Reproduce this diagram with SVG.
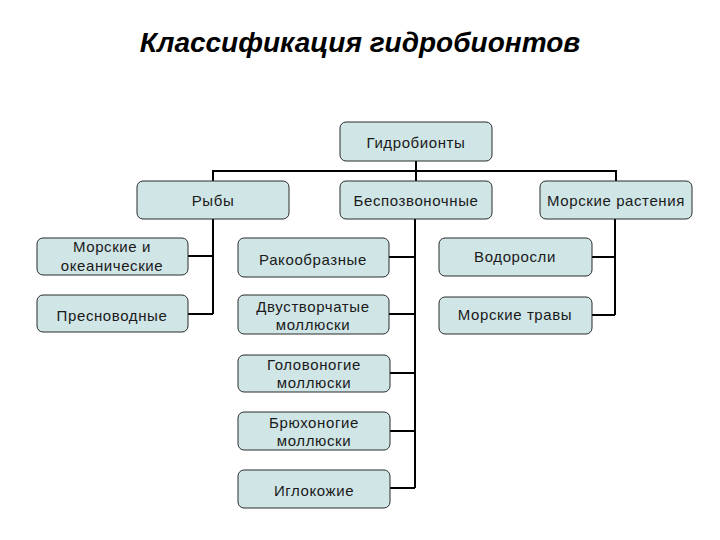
<svg xmlns="http://www.w3.org/2000/svg" width="720" height="540" viewBox="0 0 720 540">
<style>
.box{fill:#cfe5e6;stroke:#2a2a2a;stroke-width:1}
.t{font-family:"Liberation Sans",Arial,sans-serif;font-size:15px;letter-spacing:0.6px;fill:#1a1a1a;text-anchor:middle}
.c{fill:none;stroke:#000;stroke-width:2}
.title{font-family:"Liberation Sans",Arial,sans-serif;font-size:28px;font-weight:bold;font-style:italic;fill:#000;text-anchor:middle}
</style>
<rect width="720" height="540" fill="#fff"/>
<text class="title" x="360" y="52">Классификация гидробионтов</text>
<g id="connectors">
<path class="c" d="M416 161V181M213 181V171H616V181"/>
<path class="c" d="M213 219V314M188 256H213M188 314H213"/>
<path class="c" d="M415 219V488M389 257H415M389 314H415M390 373H415M390 431H415M390 488H415"/>
<path class="c" d="M615 219V315M592 257H615M592 315H615"/>
</g>
<g id="n-root"><rect class="box" x="340" y="122" width="152" height="39" rx="6"/><text class="t" x="416" y="148">Гидробионты</text></g>
<g id="n-fish"><rect class="box" x="137" y="181" width="152" height="38" rx="6"/><text class="t" x="213" y="206">Рыбы</text></g>
<g id="n-invert"><rect class="box" x="340" y="181" width="152" height="38" rx="6"/><text class="t" x="416" y="206">Беспозвоночные</text></g>
<g id="n-plants"><rect class="box" x="540" y="181" width="152" height="38" rx="6"/><text class="t" x="616" y="206">Морские растения</text></g>
<g id="n-marine"><rect class="box" x="37" y="238" width="151" height="37" rx="6"/><text class="t" x="112" y="252">Морские и</text><text class="t" x="112" y="271">океанические</text></g>
<g id="n-fresh"><rect class="box" x="37" y="295" width="151" height="37" rx="6"/><text class="t" x="112" y="321">Пресноводные</text></g>
<g id="n-crust"><rect class="box" x="238" y="238" width="151" height="39" rx="6"/><text class="t" x="313" y="265">Ракообразные</text></g>
<g id="n-bival"><rect class="box" x="238" y="295" width="151" height="39" rx="6"/><text class="t" x="313" y="312">Двустворчатые</text><text class="t" x="313" y="330">моллюски</text></g>
<g id="n-ceph"><rect class="box" x="238" y="355" width="152" height="37" rx="6"/><text class="t" x="314" y="370">Головоногие</text><text class="t" x="314" y="388">моллюски</text></g>
<g id="n-gastro"><rect class="box" x="238" y="412" width="152" height="38" rx="6"/><text class="t" x="314" y="428">Брюхоногие</text><text class="t" x="314" y="446">моллюски</text></g>
<g id="n-echin"><rect class="box" x="238" y="470" width="152" height="38" rx="6"/><text class="t" x="314" y="496">Иглокожие</text></g>
<g id="n-algae"><rect class="box" x="439" y="238" width="153" height="38" rx="6"/><text class="t" x="515" y="262">Водоросли</text></g>
<g id="n-grass"><rect class="box" x="439" y="297" width="153" height="37" rx="6"/><text class="t" x="515" y="320">Морские травы</text></g>
</svg>
